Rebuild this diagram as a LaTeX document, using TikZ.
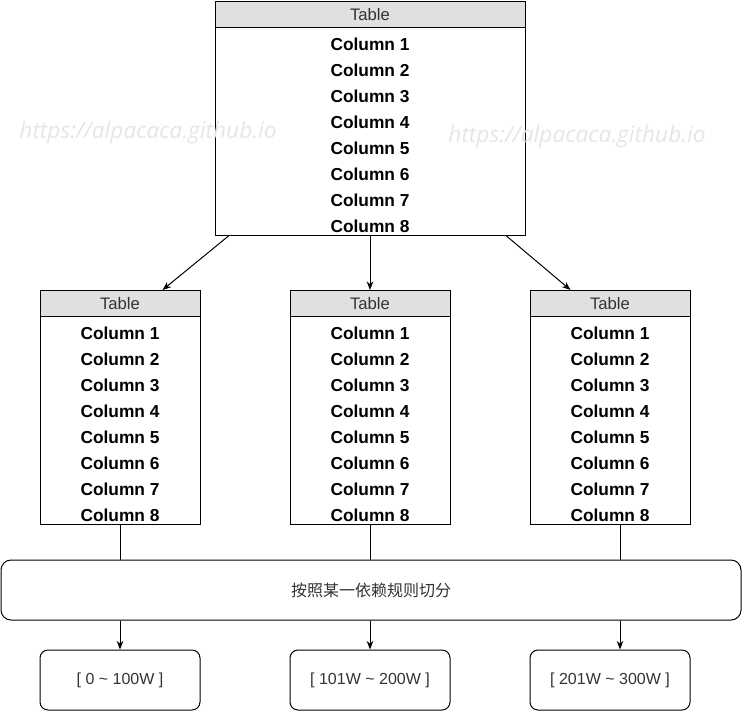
\documentclass[tikz,border=0pt]{standalone}
\usepackage{fontspec}
\setmainfont{Liberation Sans}
\newfontfamily\cjk{Noto Sans CJK SC}
\newfontfamily\wmfont{Open Sans}
\usetikzlibrary{arrows.meta}
\definecolor{hdr}{HTML}{E0E0E0}
\definecolor{txt}{HTML}{333333}
\definecolor{wmc}{HTML}{E6E6E6}
\newcommand\mytable[4]{%
  \node[tblbody, minimum width=#4*0.75pt, minimum height=234*0.75pt, anchor=north] (#1) at (#2,#3) {};
  \node[tblhead, minimum width=#4*0.75pt, minimum height=26*0.75pt, anchor=north] (#1h) at (#1.north) {Table};
  \foreach \i in {1,...,8} {\node[colt] (#1c\i) at (#2,#3+17+26*\i) {Column \i};}
}
\begin{document}
\begin{tikzpicture}[x=0.75pt,y=-0.75pt,
  tblbody/.style={draw, line width=0.75pt, fill=white, inner sep=0pt},
  tblhead/.style={draw, line width=0.75pt, fill=hdr, inner sep=0pt, font=\fontsize{12.5}{14}\selectfont, text=txt},
  colt/.style={font=\fontsize{13}{15}\selectfont\bfseries, inner sep=0pt},
  arr/.style={line width=0.75pt, -{Stealth[length=6.5pt,width=5pt]}},
  ln/.style={line width=0.75pt},
  rbox/.style={draw, line width=0.75pt, rounded corners=6pt, minimum width=120pt, minimum height=45pt, inner sep=0pt, font=\fontsize{12}{14}\selectfont, text=txt},
  wm/.style={font=\wmfont\itshape\fontsize{17}{19}\selectfont, text=wmc, inner sep=0pt}
]
\useasboundingbox (0,0) rectangle (742,711);
\fill[white] (0,0) rectangle (742,711);
\mytable{t0}{370}{1}{310}
\mytable{t1}{120}{290}{160}
\mytable{t2}{370}{290}{160}
\mytable{t3}{610}{290}{160}
\draw[arr] ([xshift=14*0.75pt]t0.south west) -- ([xshift=-38*0.75pt]t1h.north east);
\draw[arr] (t0.south) -- (t2h.north);
\draw[arr] ([xshift=-19*0.75pt]t0.south east) -- ([xshift=41*0.75pt]t3h.north west);
\node[draw, line width=0.75pt, rounded corners=7.5pt, minimum width=740*0.75pt, minimum height=60*0.75pt, inner sep=0pt, text=txt, font=\cjk\fontsize{12}{14}\selectfont] (split) at (371,590) {按照某一依赖规则切分};
\draw[ln] (t1.south) -- (t1.south |- split.north);
\draw[ln] (t2.south) -- (t2.south |- split.north);
\draw[ln] ([xshift=10*0.75pt]t3.south) -- ([xshift=10*0.75pt]t3.south |- split.north);
\node[rbox] (r1) at (120,680) {[ 0 \textasciitilde{} 100W ]};
\node[rbox] (r2) at (370,680) {[ 101W \textasciitilde{} 200W ]};
\node[rbox] (r3) at (610,680) {[ 201W \textasciitilde{} 300W ]};
\draw[arr] (r1.north |- split.south) -- (r1.north);
\draw[arr] (r2.north |- split.south) -- (r2.north);
\draw[arr] ([xshift=10*0.75pt]r3.north |- split.south) -- ([xshift=10*0.75pt]r3.north);
\node[wm] (wm1) at (148,133) {https://alpacaca.github.io};
\node[wm] (wm2) at (577,137) {https://alpacaca.github.io};
\end{tikzpicture}
\end{document}
